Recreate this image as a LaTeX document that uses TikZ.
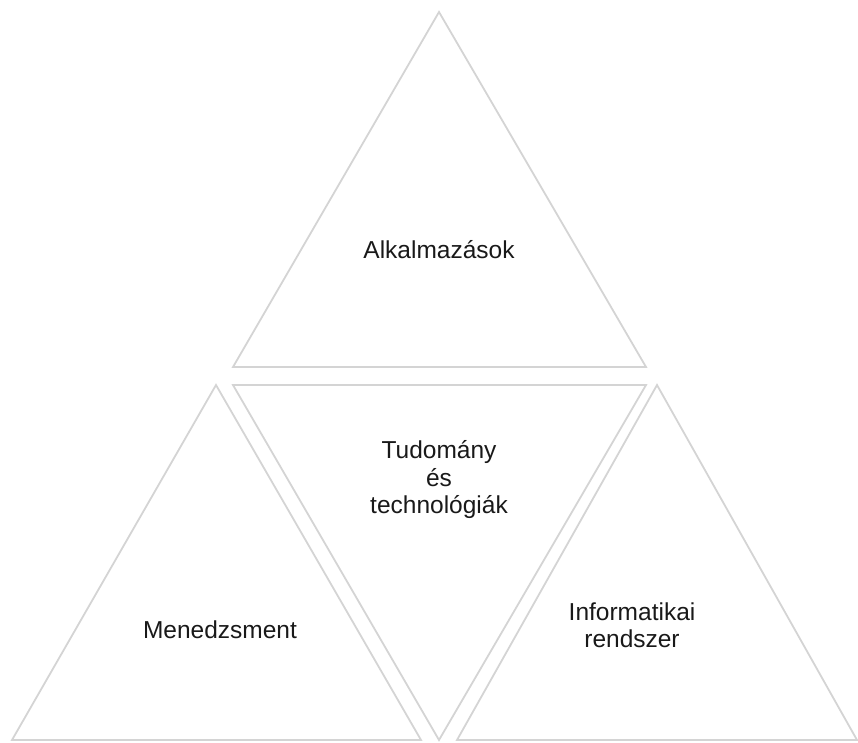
\documentclass[tikz,border=0pt]{standalone}
\usepackage{fontspec}
\setmainfont{Liberation Sans}
\definecolor{edge}{RGB}{212,212,212}
\definecolor{txt}{RGB}{25,25,25}
\begin{document}
\begin{tikzpicture}[x=1pt,y=-1pt,
  tri/.style={draw=edge,line width=1.8pt,line join=miter},
  lbl/.style={text=txt,font=\fontsize{24.5}{27.5}\selectfont,align=center,inner sep=0pt}]
\useasboundingbox (0,0) rectangle (858,742);
% top triangle
\coordinate (tA) at (439,12);
\coordinate (tB) at (233,367);
\coordinate (tC) at (646,367);
\draw[tri] (tA) -- (tB) -- (tC) -- cycle;
% middle inverted triangle
\coordinate (mA) at (233,385);
\coordinate (mB) at (646,385);
\coordinate (mC) at (439,740);
\draw[tri] (mA) -- (mB) -- (mC) -- cycle;
% left triangle
\coordinate (lA) at (216,385);
\coordinate (lB) at (12,740);
\coordinate (lC) at (421,740);
\draw[tri] (lA) -- (lB) -- (lC) -- cycle;
% right triangle
\coordinate (rA) at (657,385);
\coordinate (rB) at (457,740);
\coordinate (rC) at (857,740);
\draw[tri] (rA) -- (rB) -- (rC) -- cycle;
\node[lbl] (alk) at (439,250) {Alkalmazások};
\node[lbl] (tud) at (439,480) {Tudomány\\és\\technológiák};
\node[lbl] (men) at (220,630) {Menedzsment};
\node[lbl] (inf) at (632,625) {Informatikai\\rendszer};
\end{tikzpicture}
\end{document}
